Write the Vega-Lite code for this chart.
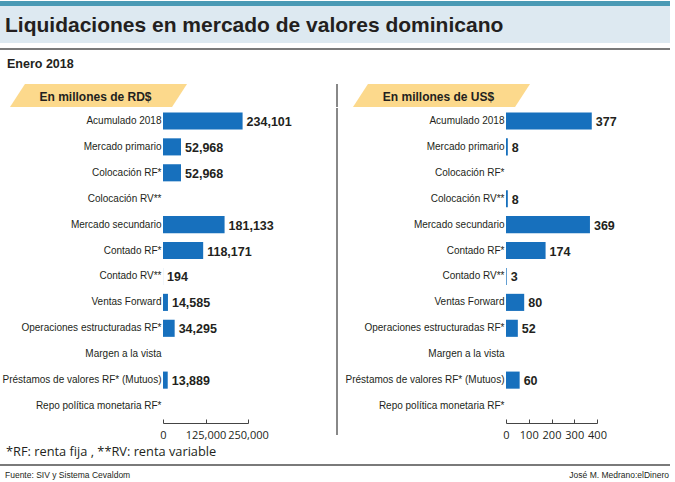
{
  "$schema": "https://vega.github.io/schema/vega-lite/v6.json",
  "padding": {"left": 0, "right": 5, "top": 1, "bottom": 0},
  "background": "white",
  "spacing": 0,
  "config": {
    "view": {"stroke": null},
    "concat": {"spacing": 0},
    "text": {"color": "#231f20"}
  },
  "datasets": {
    "d": [
      {"cat": "Acumulado 2018", "rd": 234101, "us": 377},
      {"cat": "Mercado primario", "rd": 52968, "us": 8},
      {"cat": "Colocación RF*", "rd": 52968, "us": null},
      {"cat": "Colocación RV**", "rd": null, "us": 8},
      {"cat": "Mercado secundario", "rd": 181133, "us": 369},
      {"cat": "Contado RF*", "rd": 118171, "us": 174},
      {"cat": "Contado RV**", "rd": 194, "us": 3},
      {"cat": "Ventas Forward", "rd": 14585, "us": 80},
      {"cat": "Operaciones estructuradas RF*", "rd": 34295, "us": 52},
      {"cat": "Margen a la vista", "rd": null, "us": null},
      {"cat": "Préstamos de valores RF* (Mutuos)", "rd": 13889, "us": 60},
      {"cat": "Repo política monetaria RF*", "rd": null, "us": null}
    ]
  },
  "vconcat": [
    {
      "width": 670, "height": 5,
      "view": {"fill": "#4a9ab5", "stroke": null},
      "data": {"values": [{"t": ""}]},
      "mark": {"type": "text", "fontSize": 0},
      "encoding": {"text": {"field": "t"}}
    },
    {
      "width": 670, "height": 37,
      "view": {"fill": "#dde9f1", "stroke": null},
      "data": {"values": [{"t": "Liquidaciones en mercado de valores dominicano"}]},
      "mark": {"type": "text", "align": "left", "baseline": "middle", "dx": 5, "dy": 1, "font": "Liberation Sans", "fontWeight": "bold", "fontSize": 21, "color": "#231f20"},
      "encoding": {
        "text": {"field": "t"},
        "x": {"datum": 0, "type": "quantitative", "scale": {"domain": [0, 1]}, "axis": null}
      }
    },
    {
      "width": 670, "height": 5,
      "data": {"values": [{"t": ""}]},
      "mark": {"type": "text", "fontSize": 0},
      "encoding": {"text": {"field": "t"}}
    },
    {
      "width": 670, "height": 2,
      "view": {"fill": "#7a7a7a", "stroke": null},
      "data": {"values": [{"t": ""}]},
      "mark": {"type": "text", "fontSize": 0},
      "encoding": {"text": {"field": "t"}}
    },
    {
      "width": 670, "height": 33,
      "data": {"values": [{"t": "Enero 2018"}]},
      "mark": {"type": "text", "align": "left", "baseline": "middle", "dx": 7, "dy": -3, "font": "Liberation Sans", "fontWeight": "bold", "fontSize": 12.5, "color": "#231f20"},
      "encoding": {
        "text": {"field": "t"},
        "x": {"datum": 0, "type": "quantitative", "scale": {"domain": [0, 1]}, "axis": null}
      }
    },
    {
      "spacing": 139,
      "hconcat": [
        {
          "width": 197, "height": 23,
          "data": {"values": [{"t": "En millones de RD$"}]},
          "layer": [
            {"mark": {"type": "point", "shape": "M-1,0.13L-0.831,-0.13L1,-0.13L0.831,0.13Z", "size": 31329, "filled": true, "color": "#fcd98c", "fill": "#fcd98c", "opacity": 1, "strokeWidth": 0}, "encoding": {}},
            {"mark": {"type": "text", "dx": -3, "dy": 1, "font": "Liberation Sans", "fontWeight": "bold", "fontSize": 12, "color": "#231f20"}, "encoding": {"text": {"field": "t"}}}
          ]
        },
        {
          "spacing": 15,
          "hconcat": [
            {
              "width": 2, "height": 23,
              "view": {"fill": "#888888", "stroke": null},
              "data": {"values": [{"t": ""}]},
              "mark": {"type": "text", "fontSize": 0},
              "encoding": {"text": {"field": "t"}}
            },
            {
              "width": 177, "height": 23,
              "data": {"values": [{"t": "En millones de US$"}]},
              "layer": [
                {"mark": {"type": "point", "shape": "M-1,0.13L-0.831,-0.13L1,-0.13L0.831,0.13Z", "size": 31329, "filled": true, "color": "#fcd98c", "fill": "#fcd98c", "opacity": 1, "strokeWidth": 0}, "encoding": {}},
                {"mark": {"type": "text", "dx": -3, "dy": 1, "font": "Liberation Sans", "fontWeight": "bold", "fontSize": 12, "color": "#231f20"}, "encoding": {"text": {"field": "t"}}}
              ]
            }
          ]
        }
      ]
    },
    {
      "spacing": 1,
      "hconcat": [
        {
          "width": 1, "height": 1,
          "data": {"values": [{"t": ""}]},
          "mark": {"type": "text", "fontSize": 0},
          "encoding": {"text": {"field": "t"}}
        },
        {
          "spacing": 44,
          "hconcat": [
            {
              "width": 85, "height": 311,
              "data": {"name": "d"},
              "encoding": {
                "y": {
                  "field": "cat", "type": "nominal", "sort": null,
                  "scale": {"domain": ["Acumulado 2018", "Mercado primario", "Colocación RF*", "Colocación RV**", "Mercado secundario", "Contado RF*", "Contado RV**", "Ventas Forward", "Operaciones estructuradas RF*", "Margen a la vista", "Préstamos de valores RF* (Mutuos)", "Repo política monetaria RF*"], "paddingInner": 0.34, "paddingOuter": 0.17},
                  "axis": {"title": null, "domain": false, "ticks": false, "labelFont": "Liberation Sans", "labelFontSize": 10, "labelColor": "#231f20", "labelPadding": 2, "labelLimit": 400}
                },
                "x": {
                  "field": "rd", "type": "quantitative",
                  "scale": {"domain": [0, 250000], "nice": false},
                  "axis": {"title": null, "values": [0, 125000, 250000], "format": ",d", "grid": false, "offset": 4, "tickSize": -4, "domainColor": "#444444", "tickColor": "#444444", "labelPadding": 10, "labelFont": "Open Sans", "labelFontSize": 11, "labelColor": "#231f20", "labelFlush": false, "labelOverlap": false}
                }
              },
              "layer": [
                {"mark": {"type": "bar", "color": "#1770bd"}},
                {"mark": {"type": "text", "align": "left", "baseline": "middle", "dx": 4, "dy": 1, "font": "Liberation Sans", "fontWeight": "bold", "fontSize": 12.5, "color": "#231f20"}, "encoding": {"text": {"field": "rd", "type": "quantitative", "format": ",d"}}}
              ]
            },
            {
              "spacing": 7,
              "hconcat": [
                {
                  "width": 2, "height": 327,
                  "view": {"fill": "#888888", "stroke": null},
                  "data": {"values": [{"t": ""}]},
                  "mark": {"type": "text", "fontSize": 0},
                  "encoding": {"text": {"field": "t"}}
                },
                {
                  "width": 91, "height": 311,
                  "data": {"name": "d"},
                  "encoding": {
                    "y": {
                      "field": "cat", "type": "nominal", "sort": null,
                      "scale": {"domain": ["Acumulado 2018", "Mercado primario", "Colocación RF*", "Colocación RV**", "Mercado secundario", "Contado RF*", "Contado RV**", "Ventas Forward", "Operaciones estructuradas RF*", "Margen a la vista", "Préstamos de valores RF* (Mutuos)", "Repo política monetaria RF*"], "paddingInner": 0.34, "paddingOuter": 0.17},
                      "axis": {"title": null, "domain": false, "ticks": false, "labelFont": "Liberation Sans", "labelFontSize": 10, "labelColor": "#231f20", "labelPadding": 2, "labelLimit": 400}
                    },
                    "x": {
                      "field": "us", "type": "quantitative",
                      "scale": {"domain": [0, 400], "nice": false},
                      "axis": {"title": null, "values": [0, 100, 200, 300, 400], "format": "d", "grid": false, "offset": 4, "tickSize": -4, "domainColor": "#444444", "tickColor": "#444444", "labelPadding": 10, "labelFont": "Open Sans", "labelFontSize": 11, "labelColor": "#231f20", "labelFlush": false, "labelOverlap": false}
                    }
                  },
                  "layer": [
                    {"mark": {"type": "bar", "color": "#1770bd"}},
                    {"mark": {"type": "text", "align": "left", "baseline": "middle", "dx": 4, "dy": 1, "font": "Liberation Sans", "fontWeight": "bold", "fontSize": 12.5, "color": "#231f20"}, "encoding": {"text": {"field": "us", "type": "quantitative", "format": ",d"}}}
                  ]
                }
              ]
            }
          ]
        }
      ]
    },
    {
      "width": 670, "height": 24,
      "data": {"values": [{"t": "*RF: renta fija , **RV: renta variable"}]},
      "mark": {"type": "text", "align": "left", "baseline": "middle", "dx": 6, "font": "Open Sans", "fontSize": 12.8, "color": "#231f20"},
      "encoding": {
        "text": {"field": "t"},
        "x": {"datum": 0, "type": "quantitative", "scale": {"domain": [0, 1]}, "axis": null}
      }
    },
    {
      "width": 670, "height": 2,
      "view": {"fill": "#7a7a7a", "stroke": null},
      "data": {"values": [{"t": ""}]},
      "mark": {"type": "text", "fontSize": 0},
      "encoding": {"text": {"field": "t"}}
    },
    {
      "width": 670, "height": 17,
      "layer": [
        {
          "data": {"values": [{"t": "Fuente: SIV y Sistema Cevaldom"}]},
          "mark": {"type": "text", "align": "left", "baseline": "middle", "dx": 5, "font": "Liberation Sans", "fontSize": 8.5, "color": "#231f20"},
          "encoding": {
            "text": {"field": "t"},
            "x": {"datum": 0, "type": "quantitative", "scale": {"domain": [0, 1]}, "axis": null}
          }
        },
        {
          "data": {"values": [{"t": "José M. Medrano:elDinero"}]},
          "mark": {"type": "text", "align": "right", "baseline": "middle", "dx": -1, "font": "Liberation Sans", "fontSize": 8.5, "color": "#231f20"},
          "encoding": {
            "text": {"field": "t"},
            "x": {"datum": 1, "type": "quantitative", "scale": {"domain": [0, 1]}, "axis": null}
          }
        }
      ]
    }
  ]
}
